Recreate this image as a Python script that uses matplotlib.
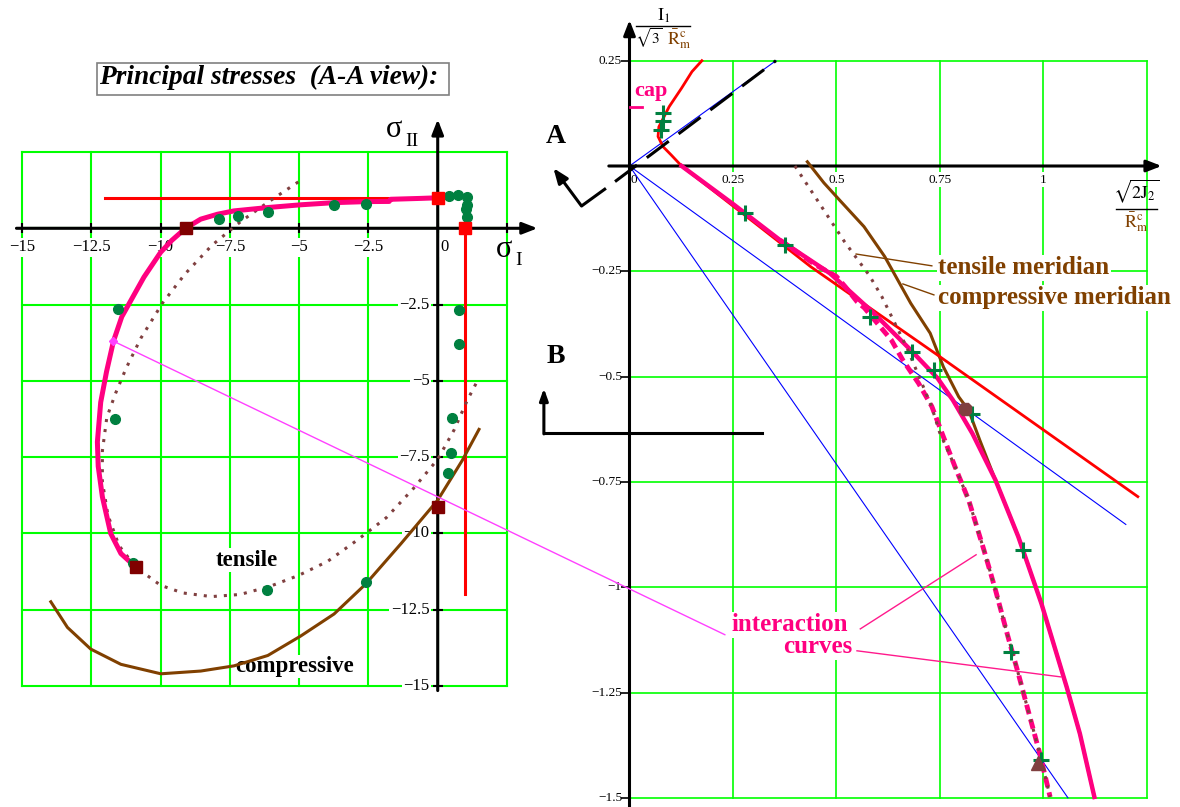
import matplotlib
matplotlib.use("Agg")
import matplotlib.pyplot as plt
from matplotlib.patches import Rectangle, ConnectionPatch
from matplotlib.lines import Line2D

plt.rcParams['font.family'] = ['Liberation Serif', 'DejaVu Serif']
plt.rcParams['mathtext.fontset'] = 'stix'

# ---- principal stress plane (left) ----
ps_ticks = [-15, -12.5, -10, -7.5, -5, -2.5, 0, 2.5]
ps_yticks = [-2.5, -5, -7.5, -10, -12.5, -15]
ps_xlabels = ['−15', '−12.5', '−10', '−7.5', '−5', '−2.5']
ps_ylabels = ['−2.5', '−5', '−7.5', '−10', '−12.5', '−15']

cut_h_x = [-12, 0]
cut_h_y = [1, 1]
cut_v_x = [1, 1]
cut_v_y = [0, -12]
cut_sq_x = [0, 1]
cut_sq_y = [1, 0]

inter_x = [0, -0.6, -1.7, -1.75, -2.54, -3.74, -4.94, -6.13, -7.35, -7.95, -8.55, -9.1,
           -9.6, -10.0, -10.6, -11.0, -11.4, -11.7, -11.95, -12.16, -12.28, -12.25,
           -12.1, -11.8, -11.43, -10.9]
inter_y = [1.0, 0.98, 0.95, 0.88, 0.875, 0.84, 0.77, 0.68, 0.57, 0.46, 0.30, 0.0,
           -0.4, -0.79, -1.6, -2.25, -2.9, -3.7, -4.7, -5.7, -7.0, -7.8,
           -8.8, -10.0, -10.66, -11.1]

tens_x = [-5.03, -6.05, -7.11, -8.15, -9.12, -9.93, -10.71, -11.25, -11.62, -11.94, -12.1,
          -12.1, -11.9, -11.5, -10.9, -10.0, -9.2, -8.16, -7.13, -6.07, -5.03, -3.98,
          -2.92, -1.85, -0.88, 0.0, 0.59, 1.07, 1.45]
tens_y = [1.52, 0.9, 0.22, -0.56, -1.5, -2.45, -3.6, -4.6, -5.4, -6.2, -7.3,
          -8.3, -9.4, -10.4, -11.1, -11.7, -11.95, -12.07, -12.0, -11.74, -11.38, -10.92,
          -10.23, -9.48, -8.53, -7.57, -6.61, -5.63, -4.97]

comp_x = [-13.96, -13.36, -12.52, -11.43, -9.99, -8.55, -7.35, -6.13, -4.94, -3.74, -2.6,
          -1.33, 0.0, 0.89, 1.49]
comp_y = [-12.24, -13.08, -13.79, -14.29, -14.6, -14.51, -14.34, -14.0, -13.36, -12.64,
          -11.66, -10.34, -8.91, -7.6, -6.59]

corner_x = [-9.1, -10.9, 0.0]
corner_y = [0.0, -11.1, -9.15]

test_x = [0.41, 0.73, 1.05, 1.05, 1.01, 1.05, -2.6, -3.74, -6.13, -7.22, -7.88, -11.53,
          -11.65, 0.77, 0.77, 0.53, 0.49, 0.37, -6.17, -2.6, -11.0]
test_y = [1.06, 1.08, 1.04, 0.75, 0.62, 0.38, 0.81, 0.77, 0.54, 0.41, 0.32, -2.64,
          -6.26, -2.69, -3.78, -6.23, -7.36, -8.02, -11.85, -11.6, -10.98]

# ---- meridian plane (right) ----
mer_xticks = [0.25, 0.5, 0.75, 1.0, 1.25]
mer_yticks = [0.25, -0.25, -0.5, -0.75, -1.0, -1.25, -1.5]
mer_xlabels = ['0.25', '0.5', '0.75', '1']
mer_ylabels = ['0.25', '−0.25', '−0.5', '−0.75', '−1', '−1.25', '−1.5']

red_x = [0.175, 0.151, 0.126, 0.096, 0.071, 0.069, 0.081, 0.101, 0.126, 0.30, 0.438,
         0.745, 1.0, 1.229]
red_y = [0.25, 0.224, 0.185, 0.141, 0.093, 0.070, 0.046, 0.026, 0.0, -0.133, -0.239,
         -0.449, -0.626, -0.785]

pink_x = [0.126, 0.25, 0.364, 0.485, 0.587, 0.68, 0.745, 0.782, 0.829, 0.885, 0.94,
          0.996, 1.057, 1.089, 1.124]
pink_y = [0.0, -0.09, -0.176, -0.255, -0.346, -0.437, -0.504, -0.556, -0.635, -0.746,
          -0.880, -1.039, -1.237, -1.348, -1.498]

pdash_x = [0.364, 0.45, 0.50, 0.522, 0.55, 0.568, 0.633, 0.661, 0.699, 0.731, 0.759,
           0.787, 0.82, 0.857, 0.885, 0.913, 0.94, 0.968, 0.992, 1.017]
pdash_y = [-0.176, -0.235, -0.262, -0.287, -0.322, -0.337, -0.413, -0.461, -0.516,
           -0.571, -0.643, -0.714, -0.793, -0.912, -1.007, -1.11, -1.205, -1.308,
           -1.395, -1.498]

tmer_x = [0.40, 0.44, 0.48, 0.52, 0.55, 0.58, 0.61, 0.64, 0.67, 0.70, 0.73, 0.75,
          0.787, 0.82, 0.857, 0.885, 0.913, 0.94, 0.968, 0.992, 1.017]
tmer_y = [0.0, -0.06, -0.12, -0.18, -0.22, -0.26, -0.31, -0.37, -0.43, -0.50, -0.57,
          -0.633, -0.714, -0.793, -0.912, -1.007, -1.11, -1.205, -1.308, -1.395, -1.498]

cmer_x = [0.43, 0.47, 0.508, 0.567, 0.617, 0.68, 0.727, 0.759, 0.796, 0.82, 0.847,
          0.885, 0.94, 0.996, 1.057, 1.089, 1.124]
cmer_y = [0.01, -0.04, -0.081, -0.144, -0.215, -0.326, -0.397, -0.477, -0.548, -0.58,
          -0.651, -0.746, -0.880, -1.039, -1.237, -1.348, -1.498]

ray_x = [0.354, 1.2, 1.06]
ray_y = [0.25, -0.851, -1.5]

plus_x = [0.08, 0.08, 0.077, 0.279, 0.376, 0.582, 0.682, 0.736, 0.829, 0.951, 0.922, 0.996]
plus_y = [0.125, 0.108, 0.085, -0.112, -0.188, -0.358, -0.441, -0.485, -0.588, -0.912,
          -1.154, -1.411]

GRID = '#00ff00'
RED = '#ff0000'
PINK = '#ff0080'
BROWN = '#804000'
DOTS = '#804040'
DKRED = '#800000'
GREEN = '#008040'
BLUE = '#0000ff'

W, H = 1180, 807
fig = plt.figure(figsize=(W / 100, H / 100), dpi=100)
fig.patch.set_facecolor('white')


def fx(px):
    return px / W


def fy(py):
    return 1 - py / H


white = dict(facecolor='white', edgecolor='none', pad=1.0)

# ================= left: principal stresses =================
ax1 = fig.add_axes([fx(22), fy(686), 485 / W, 534 / H])
ax1.set_xlim(-15, 2.5)
ax1.set_ylim(-15, 2.5)
ax1.axis('off')

for v in ps_ticks:
    ax1.plot([v, v], [-15, 2.5], color=GRID, lw=1.5, zorder=1, clip_on=False)
    ax1.plot([-15, 2.5], [v, v], color=GRID, lw=1.5, zorder=1, clip_on=False)

arrow = dict(arrowstyle='-|>,head_length=0.9,head_width=0.35', color='k', lw=2.2,
             shrinkA=0, shrinkB=0)
ax1.annotate('', xy=(3.6, 0), xytext=(-15.2, 0), arrowprops=arrow, annotation_clip=False,
             zorder=3)
ax1.annotate('', xy=(0, 3.57), xytext=(0, -15.15), arrowprops=arrow, annotation_clip=False,
             zorder=3)
ax1.plot(ps_ticks, [0] * len(ps_ticks), ls='none', marker='|', ms=7, mew=1.5, color='k',
         clip_on=False, zorder=3)
ax1.plot([0] * len(ps_yticks), ps_yticks, ls='none', marker='_', ms=7, mew=1.5, color='k',
         clip_on=False, zorder=3)

for v, lab in zip(ps_ticks[:6], ps_xlabels):
    ax1.text(v, -0.62, lab, ha='center', va='center', fontsize=12, zorder=2, bbox=white)
ax1.text(0.25, -0.62, '0', ha='center', va='center', fontsize=12, zorder=2, bbox=white)
for v, lab in zip(ps_yticks, ps_ylabels):
    ax1.text(-0.3, v, lab, ha='right', va='center', fontsize=12, zorder=2, bbox=white)

ax1.plot(cut_h_x, cut_h_y, color=RED, lw=2.2, zorder=4, clip_on=False)
ax1.plot(cut_v_x, cut_v_y, color=RED, lw=2.2, zorder=4, clip_on=False)
ax1.plot(comp_x, comp_y, color=BROWN, lw=2.2, zorder=4, clip_on=False)
ax1.plot(tens_x, tens_y, color=DOTS, lw=2.2, dashes=(1, 2.3), zorder=4, clip_on=False)
ax1.plot(inter_x, inter_y, color=PINK, lw=3.6, zorder=5, clip_on=False,
         solid_joinstyle='round')
ax1.plot(test_x, test_y, ls='none', marker='o', ms=7, color=GREEN, zorder=6, clip_on=False)
ax1.plot(cut_sq_x, cut_sq_y, ls='none', marker='s', ms=8, color=RED, zorder=7, clip_on=False)
ax1.plot(corner_x, corner_y, ls='none', marker='s', ms=8, color=DKRED, zorder=7,
         clip_on=False)
ax1.plot([-11.7], [-3.7], ls='none', marker='D', ms=4, color='#ff40ff', zorder=7)

ax1.text(-6.89, -10.88, 'tensile', ha='center', va='center', fontsize=16.5,
         fontweight='bold', zorder=2, bbox=white)
ax1.text(-5.16, -14.36, 'compressive', ha='center', va='center', fontsize=16.5,
         fontweight='bold', zorder=2, bbox=white)

# title box
fig.add_artist(Rectangle((fx(97), fy(95)), 352 / W, 32.3 / H, transform=fig.transFigure,
                         fill=False, edgecolor='#808080', lw=1.2))
fig.text(fx(99), fy(84), 'Principal stresses  (A-A view):', fontsize=19.7,
         fontweight='bold', fontstyle='italic', ha='left', va='baseline')

fig.text(fx(386), fy(137), 'σ', fontsize=22, ha='left', va='baseline')
fig.text(fx(405), fy(146.5), 'II', fontsize=14, ha='left', va='baseline')
fig.text(fx(496), fy(257), 'σ', fontsize=22, ha='left', va='baseline')
fig.text(fx(515), fy(265), 'I', fontsize=14, ha='left', va='baseline')

# ================= right: meridian plane =================
ax2 = fig.add_axes([fx(629.5), fy(797.8), 517 / W, 737.1 / H])
ax2.set_xlim(0, 1.25)
ax2.set_ylim(-1.5, 0.25)
ax2.axis('off')

for v in mer_xticks:
    ax2.plot([v, v], [-1.5, 0.25], color=GRID, lw=1.2, zorder=1, clip_on=False)
for v in mer_yticks:
    ax2.plot([0, 1.25], [v, v], color=GRID, lw=1.2, zorder=1, clip_on=False)

ax2.annotate('', xy=(1.2866, 0), xytext=(-0.05, 0), arrowprops=arrow, annotation_clip=False,
             zorder=3)
ax2.annotate('', xy=(0, 0.3466), xytext=(0, -1.525), arrowprops=arrow,
             annotation_clip=False, zorder=3)
ax2.plot([-0.008] * len(mer_yticks), mer_yticks, ls='none', marker='_', ms=7, mew=1.2,
         color='k', clip_on=False, zorder=3)

for v, lab in zip(mer_xticks[:4], mer_xlabels):
    ax2.text(v, -0.033, lab, ha='center', va='center', fontsize=9.5, zorder=2, bbox=white)
ax2.text(0.011, -0.033, '0', ha='center', va='center', fontsize=9.5, zorder=2, bbox=white)
for v, lab in zip(mer_yticks, mer_ylabels):
    ax2.text(-0.018, v, lab, ha='right', va='center', fontsize=9.5, zorder=2, bbox=white)

for rx, ry in zip(ray_x, ray_y):
    ax2.plot([0, rx], [0, ry], color=BLUE, lw=0.8, zorder=2, clip_on=False)

ax2.plot(cmer_x, cmer_y, color=BROWN, lw=2.2, zorder=3, clip_on=False)
ax2.plot(red_x, red_y, color=RED, lw=2.0, zorder=3, clip_on=False)
ax2.plot(pink_x, pink_y, color=PINK, lw=3.2, zorder=4, clip_on=False)
ax2.plot(pdash_x, pdash_y, color=PINK, lw=3.5, dashes=(2, 1.1), zorder=4, clip_on=False)
ax2.plot(tmer_x, tmer_y, color=DOTS, lw=2.2, dashes=(1, 2.2), zorder=5, clip_on=False)

ax2.plot(plus_x, plus_y, ls='none', marker='+', ms=12, mew=2.2, color=GREEN, zorder=6,
         clip_on=False)
ax2.plot([0.811], [-0.578], ls='none', marker='8', ms=10, color=DOTS, zorder=6)
ax2.plot([0.988], [-1.418], ls='none', marker='^', ms=10, color=DOTS, zorder=6)

# section A-A
ax2.plot([-0.035, 0.354], [-0.037, 0.25], color='k', lw=2.2, dashes=(9, 4), zorder=6,
         clip_on=False)
ax2.plot([-0.057, -0.116], [-0.053, -0.095], color='k', lw=2.2, zorder=6, clip_on=False,
         solid_capstyle='butt')
ax2.annotate('', xy=(-0.184, -0.005), xytext=(-0.116, -0.095), arrowprops=arrow,
             annotation_clip=False, zorder=6)
ax2.text(-0.178, 0.069, 'A', ha='center', va='center', fontsize=20, fontweight='bold')

# section B
ax2.plot([-0.207, 0.32], [-0.635, -0.635], color='k', lw=2.2, zorder=6, clip_on=False)
ax2.annotate('', xy=(-0.207, -0.528), xytext=(-0.207, -0.636),
             arrowprops=dict(arrowstyle='-|>,head_length=0.7,head_width=0.25', color='k',
                             lw=2.2, shrinkA=0, shrinkB=0),
             annotation_clip=False, zorder=6)
ax2.text(-0.178, -0.453, 'B', ha='center', va='center', fontsize=20, fontweight='bold')

# cap label
fig.text(fx(634), fy(96), 'cap', fontsize=16, fontweight='bold', color=PINK, ha='left',
         va='baseline')
ax2.plot([0.0, 0.03], [0.14, 0.14], color=PINK, lw=2, clip_on=False, zorder=6)

# meridian labels
ax2.plot([0.731, 0.548], [-0.237, -0.209], color=BROWN, lw=1, zorder=5, clip_on=False)
ax2.plot([0.736, 0.661], [-0.306, -0.280], color=BROWN, lw=1, zorder=5, clip_on=False)
ax2.text(0.746, -0.242, 'tensile meridian', fontsize=18, fontweight='bold', color=BROWN,
         ha='left', va='center', zorder=2, bbox=white)
ax2.text(0.746, -0.313, 'compressive meridian', fontsize=18, fontweight='bold',
         color=BROWN, ha='left', va='center', zorder=2, bbox=white)

# interaction curves labels
ax2.plot([0.558, 0.838], [-1.099, -0.923], color='#ff1a8c', lw=1, zorder=5, clip_on=False)
ax2.plot([0.550, 1.043], [-1.151, -1.213], color='#ff1a8c', lw=1, zorder=5, clip_on=False)
fig.text(fx(732), fy(631), 'interaction', fontsize=18, fontweight='bold', color=PINK,
         ha='left', va='baseline', zorder=2, bbox=white)
fig.text(fx(852), fy(653), 'curves', fontsize=18, fontweight='bold', color=PINK,
         ha='right', va='baseline', zorder=2, bbox=white)

# axis labels as stacked fractions
fig.text(fx(664), fy(21), r'$\mathrm{I}_1$', fontsize=13, ha='center', va='baseline')
fig.add_artist(Line2D([fx(636), fx(690)], [fy(26), fy(26)], color='k', lw=1,
                      transform=fig.transFigure))
fig.text(fx(635), fy(44), r'$\sqrt{3}$', fontsize=11, ha='left', va='baseline')
fig.text(fx(667), fy(44), r'$\bar{\mathrm{R}}_{\mathrm{m}}^{\mathrm{c}}$', fontsize=13,
         color=BROWN, ha='left', va='baseline')

fig.text(fx(1136), fy(198), r'$\sqrt{2\mathrm{J}_2}$', fontsize=13, ha='center',
         va='baseline')
fig.add_artist(Line2D([fx(1116), fx(1157)], [fy(209), fy(209)], color='k', lw=1,
                      transform=fig.transFigure))
fig.text(fx(1136), fy(227), r'$\bar{\mathrm{R}}_{\mathrm{m}}^{\mathrm{c}}$', fontsize=13,
         color=BROWN, ha='center', va='baseline')

# leader from the principal-stress curve to the meridian plane
con = ConnectionPatch(xyA=(-11.7, -3.7), coordsA='data', axesA=ax1,
                      xyB=(0.231, -1.113), coordsB='data', axesB=ax2,
                      color='#ff40ff', lw=1)
con.set_zorder(6)
fig.add_artist(con)

fig.savefig('out.png', dpi=100, facecolor='white')
